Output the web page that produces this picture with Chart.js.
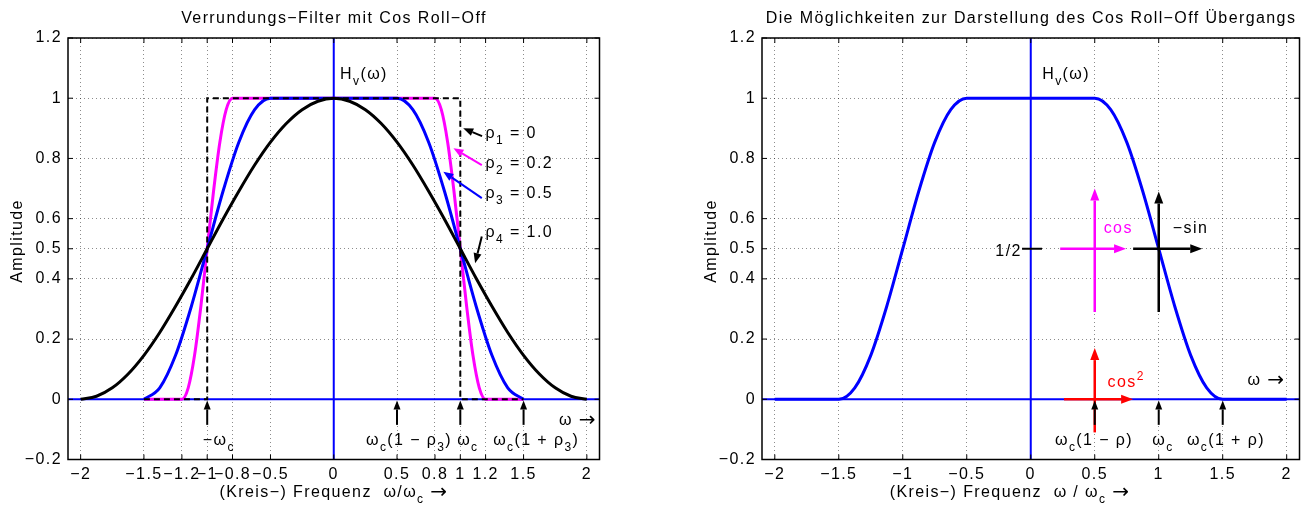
<!DOCTYPE html>
<html>
<head>
<meta charset="utf-8">
<script src="https://cdn.jsdelivr.net/npm/chart.js@4.4.1/dist/chart.umd.min.js"></script>
<style>
  html, body { margin: 0; padding: 0; background: #fff; width: 1309px; height: 506px; overflow: hidden; }
  canvas { position: absolute; top: 0; }
  #left { left: 0; }
  #right { left: 650px; }
</style>
</head>
<body>
<canvas id="left" width="650" height="506"></canvas>
<canvas id="right" width="659" height="506"></canvas>
<script>
// tick values
const xTicksLeft = [-2, -1.5, -1.2, -1, -0.8, -0.5, 0, 0.5, 0.8, 1, 1.2, 1.5, 2];
const xTicksRight = [-2, -1.5, -1, -0.5, 0, 0.5, 1, 1.5, 2];
const yTicks = [-0.2, 0, 0.2, 0.4, 0.5, 0.6, 0.8, 1, 1.2];

// rho1 = 0 (ideal, dashed)
const rho1X = [-1.5, -1, -1, 1, 1, 1.5];
const rho1Y = [0, 0, 1, 1, 0, 0];

// rho2 = 0.2
const rho2X = [-1.5, -1.2, -1.15, -1.1, -1.05, -1, -0.95, -0.9, -0.85, -0.8,
               0.8, 0.85, 0.9, 0.95, 1, 1.05, 1.1, 1.15, 1.2, 1.5];
const rho2Y = [0, 0, 0.038, 0.146, 0.309, 0.5, 0.691, 0.854, 0.962, 1,
               1, 0.962, 0.854, 0.691, 0.5, 0.309, 0.146, 0.038, 0, 0];

// rho3 = 0.5
const rho3X = [-1.5, -1.375, -1.25, -1.125, -1, -0.875, -0.75, -0.625, -0.5,
               0.5, 0.625, 0.75, 0.875, 1, 1.125, 1.25, 1.375, 1.5];
const rho3Y = [0, 0.038, 0.146, 0.309, 0.5, 0.691, 0.854, 0.962, 1,
               1, 0.962, 0.854, 0.691, 0.5, 0.309, 0.146, 0.038, 0];

// rho4 = 1.0
const rho4X = [-2, -1.875, -1.75, -1.625, -1.5, -1.375, -1.25, -1.125, -1, -0.875, -0.75, -0.625, -0.5, -0.375, -0.25, -0.125,
               0, 0.125, 0.25, 0.375, 0.5, 0.625, 0.75, 0.875, 1, 1.125, 1.25, 1.375, 1.5, 1.625, 1.75, 1.875, 2];
const rho4Y = [0, 0.01, 0.038, 0.084, 0.146, 0.222, 0.309, 0.402, 0.5, 0.598, 0.691, 0.778, 0.854, 0.916, 0.962, 0.99,
               1, 0.99, 0.962, 0.916, 0.854, 0.778, 0.691, 0.598, 0.5, 0.402, 0.309, 0.222, 0.146, 0.084, 0.038, 0.01, 0];

// right plot: H_v for rho = 0.5
const hvX = [-2, -1.5, -1.375, -1.25, -1.125, -1, -0.875, -0.75, -0.625, -0.5,
             0.5, 0.625, 0.75, 0.875, 1, 1.125, 1.25, 1.375, 1.5, 2];
const hvY = [0, 0, 0.038, 0.146, 0.309, 0.5, 0.691, 0.854, 0.962, 1,
             1, 0.962, 0.854, 0.691, 0.5, 0.309, 0.146, 0.038, 0, 0];

// axis lines
const baseX = [-2.1, 2.1], baseY = [0, 0];
const vertX = [0, 0], vertY = [-0.2, 1.2];

const FONT = "'Liberation Sans', Arial, Helvetica, sans-serif";
const ARROW_FONT = "'DejaVu Sans', sans-serif";
const SPACING = '1.4px';

const pts = (xs, ys) => xs.map((x, i) => ({x: x, y: ys[i]}));
const fmt = v => String(v).replace('-', '\u2212');

function curve(xs, ys, color, width, dash) {
  return {
    data: pts(xs, ys), borderColor: color, borderWidth: width, borderDash: dash || [],
    showLine: true, pointRadius: 0, fill: false,
    cubicInterpolationMode: dash ? 'default' : 'monotone', tension: 0
  };
}

// text with _x subscript, ^x superscript; arrows in a wider font
function rich(ctx, str, x, y, align, color, size) {
  size = size || 16;
  const parts = [];
  for (let i = 0; i < str.length; i++) {
    const c = str[i];
    if ((c === '_' || c === '^') && i + 1 < str.length) {
      parts.push({t: str[i + 1], m: c === '_' ? 1 : 2});
      i++;
    } else if (c === '\u2192') {
      parts.push({t: c, m: 3});
    } else {
      if (parts.length && parts[parts.length - 1].m === 0) parts[parts.length - 1].t += c;
      else parts.push({t: c, m: 0});
    }
  }
  const fontOf = p => p.m === 3 ? (size + 4) + 'px ' + ARROW_FONT
    : (p.m ? Math.round(size * 0.72) : size) + 'px ' + FONT;
  let w = 0;
  parts.forEach(p => {
    ctx.font = fontOf(p);
    p.w = ctx.measureText(p.t).width;
    w += p.w;
  });
  let cx = align === 'right' ? x - w : align === 'center' ? x - w / 2 : x;
  ctx.fillStyle = color;
  ctx.textAlign = 'left';
  ctx.textBaseline = 'alphabetic';
  parts.forEach(p => {
    ctx.font = fontOf(p);
    const dy = p.m === 1 ? size * 0.35 : p.m === 2 ? -size * 0.45 : p.m === 3 ? 1 : 0;
    ctx.fillText(p.t, cx, y + dy);
    cx += p.w;
  });
}

function arrow(ctx, x1, y1, x2, y2, color, lw, L, W) {
  L = L || 10; W = W || 4;
  const a = Math.atan2(y2 - y1, x2 - x1);
  const bx = x2 - L * Math.cos(a), by = y2 - L * Math.sin(a);
  ctx.strokeStyle = color; ctx.lineWidth = lw; ctx.setLineDash([]);
  ctx.beginPath(); ctx.moveTo(x1, y1); ctx.lineTo(bx, by); ctx.stroke();
  ctx.fillStyle = color;
  ctx.beginPath(); ctx.moveTo(x2, y2);
  ctx.lineTo(bx - W * Math.sin(a), by + W * Math.cos(a));
  ctx.lineTo(bx + W * Math.sin(a), by - W * Math.cos(a));
  ctx.closePath(); ctx.fill();
}

const spacingPlugin = {
  id: 'spacing',
  beforeUpdate(chart) { chart.ctx.letterSpacing = SPACING; },
  beforeDraw(chart) { chart.ctx.letterSpacing = SPACING; }
};

function decor(notes, xt) {
  return {
    id: 'decor',
    afterDraw(chart) {
      const ctx = chart.ctx, a = chart.chartArea;
      const sx = chart.scales.x, sy = chart.scales.y;
      const px = v => sx.getPixelForValue(v), py = v => sy.getPixelForValue(v);
      ctx.save();
      // frame and inner ticks
      ctx.strokeStyle = '#000'; ctx.lineWidth = 1.5; ctx.setLineDash([]);
      ctx.strokeRect(a.left, a.top, a.right - a.left, a.bottom - a.top);
      ctx.lineWidth = 1;
      ctx.beginPath();
      xt.forEach(v => {
        const x = px(v);
        ctx.moveTo(x, a.bottom); ctx.lineTo(x, a.bottom - 5);
        ctx.moveTo(x, a.top); ctx.lineTo(x, a.top + 5);
      });
      yTicks.forEach(v => {
        const y = py(v);
        ctx.moveTo(a.left, y); ctx.lineTo(a.left + 5, y);
        ctx.moveTo(a.right, y); ctx.lineTo(a.right - 5, y);
      });
      ctx.stroke();
      // lines and arrows
      (notes.lines || []).forEach(l => {
        ctx.strokeStyle = l.c; ctx.lineWidth = l.w;
        ctx.beginPath(); ctx.moveTo(px(l.f[0]), py(l.f[1])); ctx.lineTo(px(l.t[0]), py(l.t[1])); ctx.stroke();
      });
      notes.arrows.forEach(r => arrow(ctx, px(r.f[0]), py(r.f[1]), px(r.t[0]), py(r.t[1]), r.c, r.w || 2, r.L, r.W));
      // texts in data coordinates
      notes.texts.forEach(t => rich(ctx, t.s, px(t.x), py(t.y), t.a || 'left', t.c || '#000', t.size));
      // title and axis labels
      rich(ctx, notes.title[0], notes.title[1], 23, 'center', '#000');
      rich(ctx, notes.xlabel[0], notes.xlabel[1], 497, 'center', '#000');
      ctx.translate(notes.ylabel[0], 241);
      ctx.rotate(-Math.PI / 2);
      rich(ctx, 'Amplitude', 0, 0, 'center', '#000');
      ctx.restore();
    }
  };
}

function makeChart(id, datasets, xt, yAxisW, padRight, notes) {
  const tickFont = {family: FONT, size: 16};
  return new Chart(document.getElementById(id), {
    type: 'scatter',
    data: {datasets: datasets},
    options: {
      responsive: false, animation: false,
      layout: {padding: {left: 0, right: padRight, top: 38, bottom: 0}},
      plugins: {legend: {display: false}, tooltip: {enabled: false}},
      scales: {
        x: {
          type: 'linear', min: -2.1, max: 2.1,
          afterBuildTicks: s => { s.ticks = xt.map(v => ({value: v})); },
          afterFit: s => { s.height = 46.5; },
          ticks: {autoSkip: false, maxRotation: 0, minRotation: 0, padding: 5, color: '#000', font: tickFont, callback: fmt},
          grid: {color: 'rgba(0,0,0,0.45)', lineWidth: 1, drawTicks: false},
          border: {display: false, dash: [1, 3]}
        },
        y: {
          type: 'linear', min: -0.2, max: 1.2,
          afterBuildTicks: s => { s.ticks = yTicks.map(v => ({value: v})); },
          afterFit: s => { s.width = yAxisW; },
          ticks: {autoSkip: false, padding: 6, color: '#000', font: tickFont, callback: fmt},
          grid: {color: 'rgba(0,0,0,0.45)', lineWidth: 1, drawTicks: false},
          border: {display: false, dash: [1, 3]}
        }
      }
    },
    plugins: [spacingPlugin, decor(notes, xt)]
  });
}

const upArrows = xs => xs.map(x => ({f: [x, -0.085], t: [x, -0.004], c: '#000', w: 2, L: 9, W: 3.5}));

makeChart('left', [
  curve(rho1X, rho1Y, '#000', 2, [6, 4]),
  curve(rho4X, rho4Y, '#000', 3),
  curve(rho3X, rho3Y, '#0000ff', 3),
  curve(rho2X, rho2Y, '#ff00ff', 3),
  curve(vertX, vertY, '#0000ff', 2),
  curve(baseX, baseY, '#0000ff', 2)
], xTicksLeft, 68, 50.5, {
  title: ['Verrundungs\u2212Filter mit Cos Roll\u2212Off', 334],
  xlabel: ['(Kreis\u2212) Frequenz  \u03c9/\u03c9_c \u2192', 334],
  ylabel: [21.5],
  arrows: [
    {f: [1.172, 0.874], t: [1.023, 0.9], c: '#000'},
    {f: [1.17, 0.778], t: [0.946, 0.834], c: '#ff00ff'},
    {f: [1.17, 0.668], t: [0.866, 0.756], c: '#0000ff'},
    {f: [1.17, 0.541], t: [1.117, 0.452], c: '#000'}
  ].concat(upArrows([-1, 0.5, 1, 1.5])),
  texts: [
    {s: 'H_v(\u03c9)', x: 0.05, y: 1.063},
    {s: '\u03c1_1 = 0', x: 1.2, y: 0.867},
    {s: '\u03c1_2 = 0.2', x: 1.2, y: 0.767},
    {s: '\u03c1_3 = 0.5', x: 1.2, y: 0.668},
    {s: '\u03c1_4 = 1.0', x: 1.2, y: 0.538},
    {s: '\u2212\u03c9_c', x: -1.035, y: -0.153},
    {s: '\u03c9_c(1 \u2212 \u03c1_3)', x: 0.255, y: -0.153},
    {s: '\u03c9_c', x: 0.975, y: -0.153},
    {s: '\u03c9_c(1 + \u03c1_3)', x: 1.26, y: -0.153},
    {s: '\u03c9 \u2192', x: 2.08, y: -0.085, a: 'right'}
  ]
});

makeChart('right', [
  curve(hvX, hvY, '#0000ff', 3),
  curve(vertX, vertY, '#0000ff', 2),
  curve(baseX, baseY, '#0000ff', 2)
], xTicksRight, 112, 9.5, {
  title: ['Die M\u00f6glichkeiten zur Darstellung des Cos Roll\u2212Off \u00dcbergangs', 381],
  xlabel: ['(Kreis\u2212) Frequenz  \u03c9 / \u03c9_c \u2192', 360],
  ylabel: [65.5],
  lines: [
    {f: [-0.068, 0.5], t: [0.088, 0.5], c: '#000', w: 2}
  ],
  arrows: [
    {f: [0.23, 0.5], t: [0.745, 0.5], c: '#ff00ff', w: 2.5, L: 12, W: 4.5},
    {f: [0.5, 0.29], t: [0.5, 0.7], c: '#ff00ff', w: 2.5, L: 12, W: 4.5},
    {f: [0.8, 0.5], t: [1.34, 0.5], c: '#000', w: 2.5, L: 12, W: 4.5},
    {f: [1, 0.29], t: [1, 0.69], c: '#000', w: 2.5, L: 12, W: 4.5},
    {f: [0.26, 0], t: [0.8, 0], c: '#ff0000', w: 2.5, L: 12, W: 4.5},
    {f: [0.5, -0.11], t: [0.5, 0.17], c: '#ff0000', w: 2.5, L: 12, W: 4.5}
  ].concat(upArrows([0.5, 1, 1.5])),
  texts: [
    {s: 'H_v(\u03c9)', x: 0.09, y: 1.063},
    {s: '1/2', x: -0.07, y: 0.475, a: 'right'},
    {s: 'cos', x: 0.57, y: 0.552, c: '#ff00ff'},
    {s: '\u2212sin', x: 1.11, y: 0.552},
    {s: 'cos^2', x: 0.6, y: 0.041, c: '#ff0000'},
    {s: '\u03c9 \u2192', x: 1.99, y: 0.048, a: 'right'},
    {s: '\u03c9_c(1 \u2212 \u03c1)', x: 0.19, y: -0.153},
    {s: '\u03c9_c', x: 0.95, y: -0.153},
    {s: '\u03c9_c(1 + \u03c1)', x: 1.22, y: -0.153}
  ]
});
</script>
</body>
</html>
